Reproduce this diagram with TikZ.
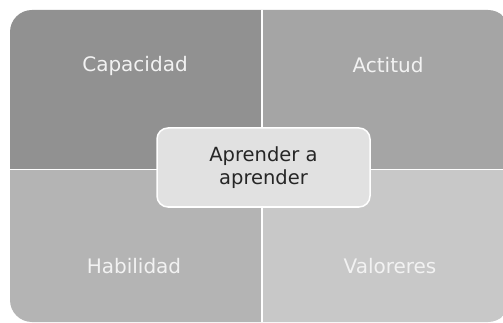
\documentclass[tikz,border=0pt]{standalone}
\usepackage{fontspec}
\setmainfont{DejaVu Sans}
\definecolor{qtl}{HTML}{919191}
\definecolor{qtr}{HTML}{A5A5A5}
\definecolor{qbl}{HTML}{B4B4B4}
\definecolor{qbr}{HTML}{C8C8C8}
\definecolor{qc}{HTML}{E1E1E1}
\definecolor{qtxt}{HTML}{F2F2F2}
\tikzset{
  divider/.style={draw=white, line width=1.5pt},
  qlabel/.style={text=qtxt, font=\fontsize{20}{23}\selectfont, inner sep=0pt},
  centerbox/.style={draw=white, line width=1.5pt, fill=qc, rounded corners=11pt, text=black!85,
     font=\fontsize{19.5}{22.5}\selectfont, align=center, minimum width=213pt, minimum height=79pt, inner sep=0pt}
}
\begin{document}
\begin{tikzpicture}[x=1pt,y=-1pt]
\useasboundingbox (0,0) rectangle (503,323);
\fill[white] (0,0) rectangle (503,323);
\begin{scope}
\clip (0,0) rectangle (503,323);
\clip[rounded corners=22pt] (10,10) rectangle (510,322);
\fill[qtl] (0,0) rectangle (262,170);
\fill[qtr] (262,0) rectangle (520,170);
\fill[qbl] (0,170) rectangle (262,330);
\fill[qbr] (262,170) rectangle (520,330);
\coordinate (vt) at (262,0);
\coordinate (vb) at (262,330);
\coordinate (hl) at (0,169.5);
\coordinate (hr) at (520,169.5);
\draw[divider] (vt) -- (vb);
\draw[divider] (hl) -- (hr);
\end{scope}
\node[qlabel] (cap) at (135,66) {Capacidad};
\node[qlabel] (act) at (388,65) {Actitud};
\node[qlabel] (hab) at (134,266) {Habilidad};
\node[qlabel] (val) at (390,266) {Valoreres};
\node[centerbox] (ctr) at (263.5,167.5) {Aprender a\\aprender};
\end{tikzpicture}
\end{document}
